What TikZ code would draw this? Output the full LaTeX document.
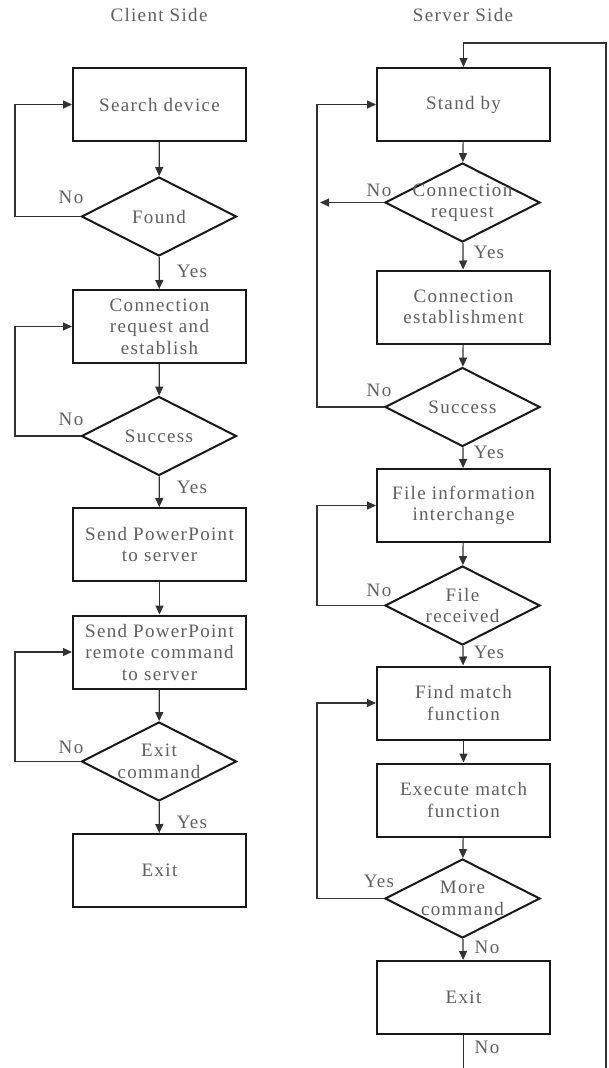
\documentclass[tikz,border=0pt]{standalone}
\usepackage{fontspec}
\setmainfont{Liberation Serif}[LetterSpace=7]
\usetikzlibrary{shapes.geometric,arrows.meta,positioning}

\definecolor{txtgray}{RGB}{95,95,95}
\definecolor{boxline}{RGB}{25,25,25}
\definecolor{lnline}{RGB}{50,50,50}

\tikzset{
	txt/.style={text=txtgray, font=\fontsize{19}{21.5}\selectfont, inner sep=0pt, align=center},
	box/.style={txt, draw=boxline, line width=2pt, minimum width=173pt, minimum height=73pt},
	decision/.style={diamond, draw=boxline, line width=2pt, minimum width=155pt, minimum height=79pt, inner sep=0pt},
	flow/.style={draw=lnline, line width=1.2pt, -{Triangle[length=9pt,width=8pt]}},
	plain/.style={draw=lnline, line width=1.2pt}
}

\begin{document}
\begin{tikzpicture}[x=1pt,y=-1pt]
	\useasboundingbox (0,0) rectangle (608,1068);
	% titles
	\node[txt] (ctitle) at (159,15) {Client Side};
	\node[txt] (stitle) at (463,15) {Server Side};

	% client side
	\node[box] (search) at (159.5,104.5) {Search device};
	\node[decision, label={[txt]center:Found}] (found) at (159,216.5) {};
	\node[box] (connect) at (159.5,326.5) {Connection\\request and\\establish};
	\node[decision, label={[txt]center:Success}] (csucc) at (159,436) {};
	\node[box] (sendppt) at (159.5,544.5) {Send PowerPoint\\to server};
	\node[box] (sendcmd) at (159.5,652) {Send PowerPoint\\remote command\\to server};
	\node[decision, label={[txt]center:{Exit\\command}}] (exitcmd) at (159,761.5) {};
	\node[box] (cexit) at (159.5,870.5) {Exit};

	\draw[flow] (search) -- (found);
	\draw[flow] (found) -- (connect);
	\draw[flow] (connect) -- (csucc);
	\draw[flow] (csucc) -- (sendppt);
	\draw[flow] (sendppt) -- (sendcmd);
	\draw[flow] (sendcmd) -- (exitcmd);
	\draw[flow] (exitcmd) -- (cexit);
	\draw[flow] (found.west) -- ++(-65.5,0) |- (search.west);
	\draw[flow] (csucc.west) -- ++(-65.5,0) |- (connect.west);
	\draw[flow] (exitcmd.west) -- ++(-65.5,0) |- (sendcmd.west);

	\node[txt] (cno1) at (71,197) {No};
	\node[txt] (cyes1) at (192,271) {Yes};
	\node[txt] (cno2) at (71,419) {No};
	\node[txt] (cyes2) at (192,487) {Yes};
	\node[txt] (cno3) at (71,747) {No};
	\node[txt] (cyes3) at (192,822) {Yes};

	% server side
	\node[box] (standby) at (463.5,104.5) {Stand by};
	\node[decision, label={[txt]center:{Connection\\request}}] (connreq) at (462.5,202.5) {};
	\node[box] (establish) at (463.5,307) {Connection\\establishment};
	\node[decision, label={[txt]center:Success}] (ssucc) at (462.5,407) {};
	\node[box] (fileinfo) at (463.5,505.5) {File information\\interchange};
	\node[decision, label={[txt]center:{File\\received}}] (filerec) at (462.5,605.5) {};
	\node[box] (findfn) at (463.5,703) {Find match\\function};
	\node[box] (execfn) at (463.5,800) {Execute match\\function};
	\node[decision, label={[txt]center:{More\\command}}] (more) at (462.5,898.5) {};
	\node[box] (sexit) at (463.5,997.5) {Exit};

	\draw[flow] (standby) -- (connreq);
	\draw[flow] (connreq) -- (establish);
	\draw[flow] (establish) -- (ssucc);
	\draw[flow] (ssucc) -- (fileinfo);
	\draw[flow] (fileinfo) -- (filerec);
	\draw[flow] (filerec) -- (findfn);
	\draw[flow] (findfn) -- (execfn);
	\draw[flow] (execfn) -- (more);
	\draw[flow] (more) -- (sexit);
	\draw[flow] (connreq.west) -- ++(-64,0);
	\draw[flow] (ssucc.west) -- ++(-67,0) |- (standby.west);
	\draw[flow] (filerec.west) -- ++(-67,0) |- (fileinfo.west);
	\draw[flow] (more.west) -- ++(-67,0) |- (findfn.west);

	% way back to stand by
	\coordinate (stail) at (463.5,1068);
	\coordinate (rtail) at (606,1068);
	\draw[plain] (sexit) -- (stail);
	\draw[flow] (rtail) -- ++(0,-1025) -| (standby.north);

	\node[txt] (sno1) at (379,190) {No};
	\node[txt] (syes1) at (489,252) {Yes};
	\node[txt] (sno2) at (379,390) {No};
	\node[txt] (syes2) at (489,452) {Yes};
	\node[txt] (sno3) at (379,590) {No};
	\node[txt] (syes3) at (489,652) {Yes};
	\node[txt] (syes4) at (379,881) {Yes};
	\node[txt] (sno4) at (487,947) {No};
	\node[txt] (sno5) at (487,1047) {No};
\end{tikzpicture}
\end{document}
